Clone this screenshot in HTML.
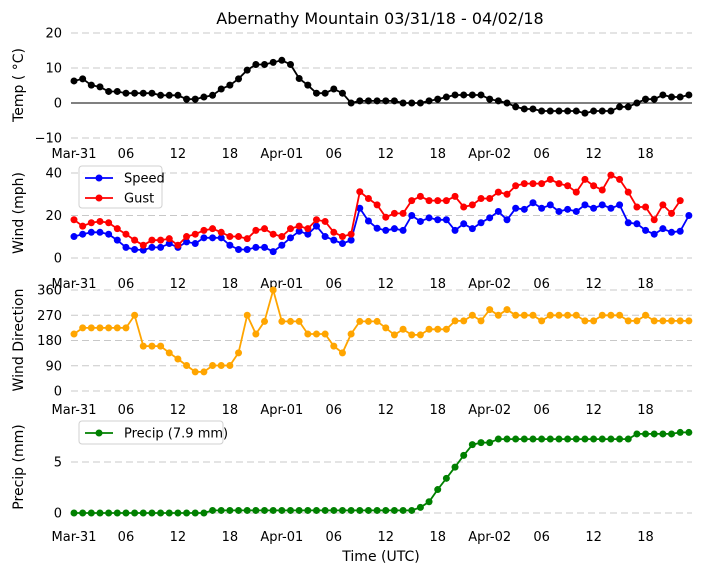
<!DOCTYPE html>
<html><head><meta charset="utf-8"><style>
body{margin:0;background:#fff;}
svg{display:block;font-family:"DejaVu Sans","Liberation Sans",sans-serif;}
</style></head><body>
<svg id="c" width="704" height="573" viewBox="0 0 704 573" xmlns="http://www.w3.org/2000/svg">
<text x="380" y="24" font-size="16" text-anchor="middle">Abernathy Mountain 03/31/18 - 04/02/18</text>
<text x="381" y="561" font-size="14" text-anchor="middle">Time (UTC)</text>
</svg>
<script>
const tempVals=[6.3,6.9,5.1,4.6,3.3,3.3,2.8,2.8,2.8,2.8,2.2,2.2,2.2,1.1,1.1,1.7,2.2,4,5.1,6.9,9.4,11,11,11.6,12.2,11,7,5.1,2.8,2.8,4,2.8,0,0.6,0.6,0.6,
0.6,0.6,0,0,0,0.6,1.1,1.7,2.3,2.3,2.3,2.3,1.1,0.6,0,-1.1,-1.7,-1.7,-2.3,-2.3,-2.3,-2.3,-2.3,-2.9,-2.3,-2.3,-2.3,-1.1,-1.1,0,1.1,1.1,2.3,1.7,1.7,2.3];
const speedVals=[10.1,11.2,12.1,12.1,11.2,8.4,5,4,3.7,5,5,6.8,5,7.6,6.8,9.5,9.5,9.5,6,4,4,5,5,3,6,9.5,12.6,11.2,15,10.1,8.4,6.8,8.4,23.4,17.4,14,
13,13.8,13,20,17.2,18.9,18,18,13,16.1,13.8,16.6,18.9,21.9,18,23.4,22.9,26,23.4,25,21.9,22.9,21.9,25,23.4,25,23.4,25,16.6,16.1,13,11.2,13.8,12.1,12.6,20];
const gustVals=[18,15,16.6,17.2,16.6,13.8,11.2,8.4,6,8.4,8.4,9.1,6,10.1,11.2,13,13.8,12.1,10.1,10.1,9.1,13,13.8,11.2,10.1,13.8,15,13.8,18,17.2,12.1,10.1,11.2,31.2,28,25,
19.2,21,21,27,29,27,27,27,29,24,25,28,28,31,30,34,35,35,35,37,35,34,31,37,34,32,39,37,31,24,24,18,25,21,27,null];
const dirVals=[203,225,225,225,225,225,225,270,160,160,160,136,114,91,68,68,91,91,91,136,270,203,248,360,248,248,248,203,203,203,160,136,203,248,248,248,
225,200,220,200,200,220,220,220,250,250,270,250,290,270,290,270,270,270,250,270,270,270,270,250,250,270,270,270,250,250,270,250,250,250,250,250];
const precipVals=[0,0,0,0,0,0,0,0,0,0,0,0,0,0,0,0,0.25,0.25,0.25,0.25,0.25,0.25,0.25,0.25,0.25,0.25,0.25,0.25,0.25,0.25,0.25,0.25,0.25,0.25,0.25,0.25,
0.25,0.25,0.25,0.25,0.55,1.1,2.3,3.4,4.5,5.65,6.7,6.9,6.9,7.25,7.25,7.25,7.25,7.25,7.25,7.25,7.25,7.25,7.25,7.25,7.25,7.25,7.25,7.25,7.25,7.75,7.75,7.75,7.75,7.75,7.9,7.9];
const xTickLabels=["Mar-31","06","12","18","Apr-01","06","12","18","Apr-02","06","12","18"];
const tempTicks=[20,10,0,-10];
const windTicks=[40,20,0];
const dirTicks=[360,270,180,90,0];
const precipTicks=[5,0];

const svg=document.getElementById('c');
const NS='http://www.w3.org/2000/svg';
function mk(tag,attrs,parent){const e=document.createElementNS(NS,tag);for(const k in attrs)e.setAttribute(k,attrs[k]);(parent||svg).appendChild(e);return e;}
const xs=i=>74+i*8.66;
function yScale(v0,p0,v1,p1){return v=>p0+(v-v0)*(p1-p0)/(v1-v0);}
const panels=[
 {name:'temp',y:yScale(0,103,20,33),ticks:tempTicks,xl:158,title:'Temp ( °C)',ty:85},
 {name:'wind',y:yScale(0,258,40,173),ticks:windTicks,xl:288,title:'Wind (mph)',ty:213},
 {name:'direction',y:yScale(0,391,360,290),ticks:dirTicks,xl:414,title:'Wind Direction',ty:340},
 {name:'precip',y:yScale(0,513,5,462),ticks:precipTicks,xl:541,title:'Precip (mm)',ty:467}
];
panels.forEach(p=>{
 const g=mk('g',{});
 
 
 p.ticks.forEach(t=>{
  const gl=mk('line',{x1:71,x2:692,y1:p.y(t),y2:p.y(t),stroke:'#c8c8c8','stroke-width':1,'stroke-dasharray':'7,4'},g);
  
  
  const tl=mk('text',{x:62,y:p.y(t)+4.5,'font-size':13,'text-anchor':'end'},g);
  tl.textContent=t<0?'\u2212'+(-t):String(t);
  
  
 });
 xTickLabels.forEach((s,k)=>{
  const tl=mk('text',{x:xs(k*6),y:p.xl,'font-size':13,'text-anchor':'middle'},g);
  tl.textContent=s;
  
  
 });
 const yt=mk('text',{x:0,y:0,'font-size':14,'text-anchor':'middle',transform:`translate(23,${p.ty}) rotate(-90)`},g);
 yt.textContent=p.title;
 
 
});
const zl=mk('line',{x1:71,x2:692,y1:panels[0].y(0),y2:panels[0].y(0),stroke:'#000','stroke-width':1});



function series(vals,y,color,name){
 const g=mk('g',{});
 
 
 let d='',pen=false;
 vals.forEach((v,i)=>{if(v===null){pen=false;return;}d+=(pen?'L':'M')+xs(i).toFixed(1)+','+y(v).toFixed(1);pen=true;});
 mk('path',{d:d,fill:'none',stroke:color,'stroke-width':1.8},g);
 vals.forEach((v,i)=>{if(v===null)return;
  const c=mk('circle',{cx:xs(i),cy:y(v),r:3.5,fill:color},g);
  
  
 });
}
series(tempVals,panels[0].y,'#000','temp');
series(speedVals,panels[1].y,'#0000ff','speed');
series(gustVals,panels[1].y,'#ff0000','gust');
series(dirVals,panels[2].y,'#ffa500','direction');
series(precipVals,panels[3].y,'#008000','precip');

function legend(x,y,w,h,items,name){
 const g=mk('g',{});
 
 
 mk('rect',{x:x,y:y,width:w,height:h,rx:3,fill:'rgba(255,255,255,0.85)',stroke:'#d0d0d0'},g);
 items.forEach((it,k)=>{
  const yy=y+12+k*20;
  mk('line',{x1:x+6,x2:x+34,y1:yy,y2:yy,stroke:it.c,'stroke-width':1.8},g);
  mk('circle',{cx:x+20,cy:yy,r:3.5,fill:it.c},g);
  const t=mk('text',{x:x+45,y:yy+4.5,'font-size':13},g);
  t.textContent=it.t;
  
  
 });
}
legend(79,166,83,42,[{c:'#0000ff',t:'Speed'},{c:'#ff0000',t:'Gust'}],'wind-legend');
legend(79,421,144,23,[{c:'#008000',t:'Precip (7.9 mm)'}],'precip-legend');
</script>
</body></html>
